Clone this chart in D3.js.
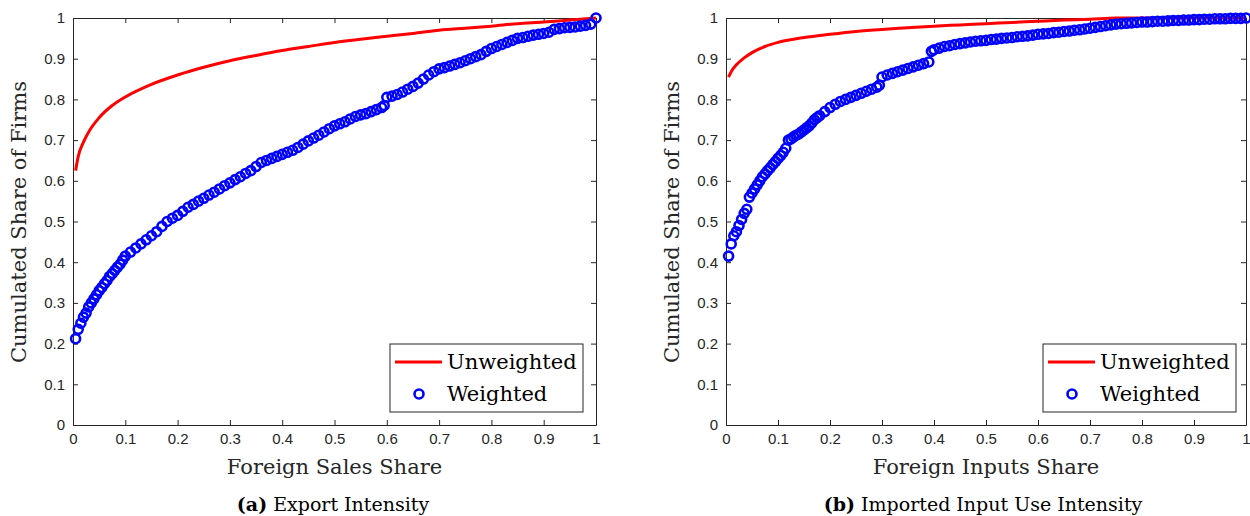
<!DOCTYPE html>
<html><head><meta charset="utf-8">
<script src="https://cdn.jsdelivr.net/npm/d3@7"></script>
<style>body{margin:0;background:#fff}</style></head>
<body><svg id="c" width="1250" height="516"></svg>
<script>
const ticks=[0,0.1,0.2,0.3,0.4,0.5,0.6,0.7,0.8,0.9,1];
const aUnwX=[0.005,0.01,0.02,0.03,0.05,0.075,0.1,0.15,0.2,0.25,0.3,0.35,0.4,0.45,0.5,0.55,0.6,0.65,0.7,0.75,0.8,0.85,0.9,0.95,1];
const aUnwY=[0.625,0.66,0.695,0.72,0.755,0.785,0.806,0.837,0.86,0.879,0.895,0.908,0.92,0.93,0.94,0.948,0.955,0.962,0.97,0.975,0.98,0.986,0.99,0.995,1];
const aWX=[0.005,0.01,0.015,0.02,0.025,0.03,0.035,0.04,0.045,0.05,0.055,0.06,0.065,0.07,0.075,0.08,0.085,0.09,0.095,0.1,0.11,0.12,0.13,0.14,0.15,0.16,0.17,0.18,0.19,0.2,0.21,0.22,0.23,0.24,0.25,0.26,0.27,0.28,0.29,0.3,0.31,0.32,0.33,0.34,0.35,0.36,0.37,0.38,0.39,0.4,0.41,0.42,0.43,0.44,0.45,0.46,0.47,0.48,0.49,0.5,0.51,0.52,0.53,0.54,0.55,0.56,0.57,0.58,0.59,0.595,0.6,0.61,0.62,0.63,0.64,0.65,0.66,0.67,0.68,0.69,0.7,0.71,0.72,0.73,0.74,0.75,0.76,0.77,0.78,0.79,0.8,0.81,0.82,0.83,0.84,0.85,0.86,0.87,0.88,0.89,0.9,0.91,0.92,0.93,0.94,0.95,0.96,0.97,0.98,0.99,1];
const aWY=[0.212,0.235,0.25,0.265,0.275,0.29,0.3,0.31,0.32,0.33,0.338,0.347,0.355,0.365,0.372,0.38,0.388,0.395,0.405,0.415,0.425,0.435,0.445,0.455,0.465,0.475,0.488,0.5,0.508,0.515,0.525,0.535,0.542,0.55,0.557,0.565,0.572,0.58,0.588,0.595,0.603,0.61,0.618,0.625,0.635,0.645,0.65,0.655,0.66,0.665,0.67,0.675,0.682,0.69,0.698,0.705,0.712,0.72,0.728,0.735,0.74,0.745,0.752,0.758,0.762,0.765,0.77,0.775,0.78,0.785,0.805,0.808,0.812,0.818,0.825,0.832,0.84,0.85,0.86,0.868,0.875,0.878,0.882,0.886,0.89,0.895,0.9,0.905,0.91,0.918,0.925,0.93,0.935,0.94,0.945,0.95,0.952,0.955,0.958,0.96,0.962,0.965,0.972,0.974,0.976,0.977,0.978,0.98,0.982,0.985,1];
const bUnwX=[0.005,0.01,0.02,0.035,0.05,0.075,0.1,0.15,0.2,0.25,0.3,0.35,0.4,0.45,0.5,0.55,0.6,0.65,0.7,0.75,1];
const bUnwY=[0.855,0.868,0.885,0.902,0.915,0.93,0.94,0.952,0.96,0.967,0.972,0.976,0.98,0.983,0.986,0.989,0.992,0.995,0.997,1,1];
const bWX=[0.005,0.01,0.015,0.02,0.025,0.03,0.035,0.04,0.045,0.05,0.055,0.06,0.065,0.07,0.075,0.08,0.085,0.09,0.095,0.1,0.105,0.11,0.115,0.12,0.125,0.13,0.135,0.14,0.145,0.15,0.155,0.16,0.165,0.17,0.175,0.18,0.19,0.2,0.21,0.22,0.23,0.24,0.25,0.26,0.27,0.28,0.29,0.295,0.3,0.31,0.32,0.33,0.34,0.35,0.36,0.37,0.38,0.39,0.395,0.4,0.41,0.42,0.43,0.44,0.45,0.46,0.47,0.48,0.49,0.5,0.51,0.52,0.53,0.54,0.55,0.56,0.57,0.58,0.59,0.6,0.61,0.62,0.63,0.64,0.65,0.66,0.67,0.68,0.69,0.7,0.71,0.72,0.73,0.74,0.75,0.76,0.77,0.78,0.79,0.8,0.81,0.82,0.83,0.84,0.85,0.86,0.87,0.88,0.89,0.9,0.91,0.92,0.93,0.94,0.95,0.96,0.97,0.98,0.99,1];
const bWY=[0.415,0.445,0.465,0.475,0.49,0.505,0.52,0.53,0.56,0.57,0.58,0.59,0.6,0.61,0.617,0.625,0.632,0.64,0.647,0.655,0.662,0.67,0.68,0.70,0.703,0.708,0.712,0.715,0.72,0.725,0.73,0.735,0.742,0.75,0.755,0.76,0.77,0.78,0.788,0.795,0.8,0.805,0.81,0.815,0.82,0.825,0.83,0.835,0.855,0.86,0.864,0.868,0.872,0.876,0.88,0.884,0.888,0.892,0.918,0.922,0.926,0.93,0.932,0.935,0.937,0.939,0.941,0.943,0.944,0.945,0.947,0.948,0.95,0.951,0.952,0.954,0.955,0.956,0.958,0.96,0.961,0.962,0.964,0.965,0.967,0.968,0.97,0.971,0.973,0.975,0.977,0.979,0.981,0.983,0.985,0.986,0.987,0.988,0.989,0.99,0.99,0.991,0.992,0.992,0.993,0.994,0.994,0.995,0.995,0.996,0.996,0.997,0.997,0.998,0.998,0.998,0.999,0.999,0.999,1,1];

const SERIF="'DejaVu Serif', 'Liberation Serif', serif";
const svg=d3.select("#c");
function panel(x0,x1,ux,uy,wx,wy,xlab,capB,capT,cx,lg){
  const x=d3.scaleLinear([0,1],[x0,x1]), y=d3.scaleLinear([0,1],[425,18]);
  const g=svg.append("g");
  const fmt=d=>d===0||d===1?d:d.toFixed(1);
  g.append("g").attr("transform","translate(0,425)").call(d3.axisBottom(x).tickValues(ticks).tickFormat(fmt).tickSizeInner(-5).tickSizeOuter(0).tickPadding(8));
  g.append("g").attr("transform","translate(0,18)").call(d3.axisTop(x).tickValues(ticks).tickFormat("").tickSizeInner(-5).tickSizeOuter(0));
  g.append("g").attr("transform",`translate(${x0},0)`).call(d3.axisLeft(y).tickValues(ticks).tickFormat(fmt).tickSizeInner(-5).tickSizeOuter(0).tickPadding(8));
  g.append("g").attr("transform",`translate(${x1},0)`).call(d3.axisRight(y).tickValues(ticks).tickFormat("").tickSizeInner(-5).tickSizeOuter(0));
  g.selectAll(".domain,.tick line").attr("stroke","#262626");
  g.selectAll(".tick text").attr("font-family","'Liberation Sans', Arial").attr("font-size",15).attr("fill","#262626");
  const line=d3.line().x(d=>x(d[0])).y(d=>y(d[1])).curve(d3.curveMonotoneX);
  g.append("path").datum(ux.map((v,i)=>[v,uy[i]])).attr("d",line).attr("fill","none").attr("stroke","#f00").attr("stroke-width",3);
  g.selectAll("circle.w").data(wx.map((v,i)=>[v,wy[i]])).join("circle").attr("cx",d=>x(d[0])).attr("cy",d=>y(d[1])).attr("r",4.5).attr("fill","none").attr("stroke","#00f").attr("stroke-width",2.6);
  g.append("text").attr("x",(x0+x1)/2).attr("y",474).attr("text-anchor","middle").attr("font-family",SERIF).attr("font-size",21).attr("fill","#262626").text(xlab);
  g.append("text").attr("transform",`translate(${x0-47},222) rotate(-90)`).attr("text-anchor","middle").attr("font-family",SERIF).attr("font-size",21).attr("fill","#262626").text("Cumulated Share of Firms");
  const t=g.append("text").attr("x",cx).attr("y",511).attr("text-anchor","middle").attr("font-family",SERIF).attr("font-size",19);
  t.append("tspan").attr("font-weight","bold").text(capB);
  t.append("tspan").text(" "+capT);
  const L=g.append("g");
  L.append("rect").attr("x",lg).attr("y",344).attr("width",193).attr("height",68).attr("fill","#fff").attr("stroke","#262626");
  L.append("line").attr("x1",lg+5).attr("x2",lg+52).attr("y1",362).attr("y2",362).attr("stroke","#f00").attr("stroke-width",3);
  L.append("circle").attr("cx",lg+29).attr("cy",394).attr("r",4.5).attr("fill","none").attr("stroke","#00f").attr("stroke-width",2.6);
  L.append("text").attr("x",lg+57).attr("y",369).attr("font-family",SERIF).attr("font-size",21).text("Unweighted");
  L.append("text").attr("x",lg+57).attr("y",401).attr("font-family",SERIF).attr("font-size",21).text("Weighted");
}
panel(73,596,aUnwX,aUnwY,aWX,aWY,"Foreign Sales Share","(a)","Export Intensity",333,390);
panel(726,1246,bUnwX,bUnwY,bWX,bWY,"Foreign Inputs Share","(b)","Imported Input Use Intensity",983,1043);
</script></body></html>
